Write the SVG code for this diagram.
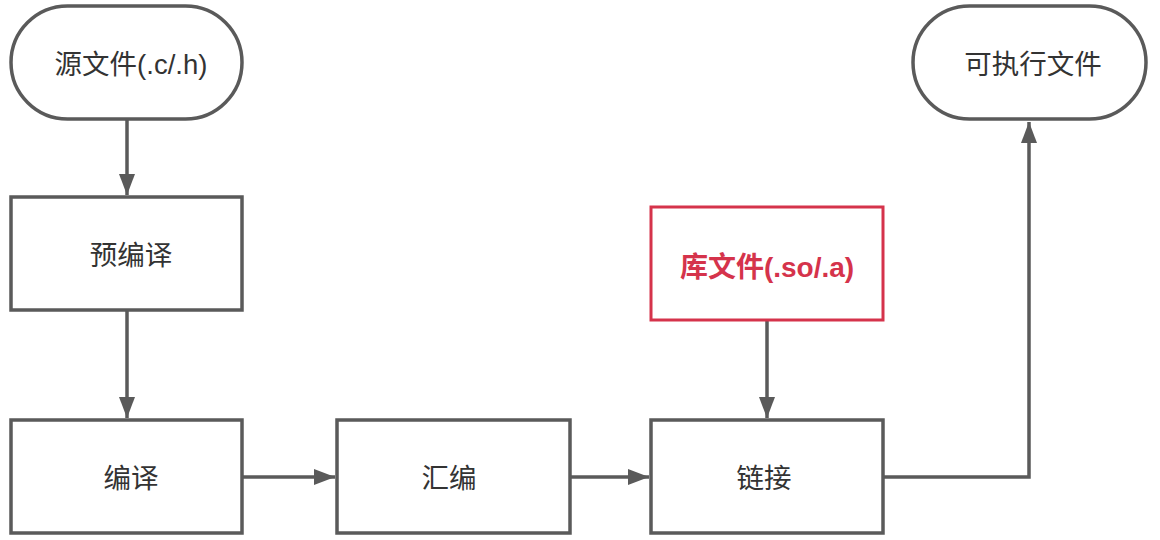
<svg xmlns="http://www.w3.org/2000/svg" width="1160" height="540" viewBox="0 0 1160 540">
<style>
.node{fill:#fff;stroke:#5a5a5a;stroke-width:3.5}
.red{fill:#fff;stroke:#d5334b;stroke-width:3}
.lbl{font-family:"Liberation Sans","Noto Sans CJK SC",sans-serif;font-size:27.5px;fill:#333;text-anchor:middle;dominant-baseline:central}
.rlbl{font-family:"Liberation Sans","Noto Sans CJK SC",sans-serif;font-size:28px;font-weight:bold;fill:#d5334b;text-anchor:middle;dominant-baseline:central}
.edge{fill:none;stroke:#5a5a5a;stroke-width:3.5;marker-end:url(#arr)}
</style>
<defs>
<marker id="arr" markerUnits="userSpaceOnUse" markerWidth="22" markerHeight="18" refX="21" refY="9" orient="auto">
<path d="M0,1 L21,9 L0,17 Z" fill="#5a5a5a"/>
</marker>
</defs>
<rect width="1160" height="540" fill="#fff"/>
<g id="connectors">
<path class="edge" d="M127,120 V195"/>
<path class="edge" d="M127,311 V418"/>
<path class="edge" d="M243,477 H335"/>
<path class="edge" d="M570,477 H649"/>
<path class="edge" d="M767,321 V418"/>
<path class="edge" d="M884,477 H1029 V122"/>
</g>
<g id="n_src">
<rect class="node" x="11" y="6" width="231" height="113" rx="56.5"/>
<text class="lbl" x="131" y="64">源文件(.c/.h)</text>
</g>
<g id="n_pre">
<rect class="node" x="11" y="197" width="231" height="113"/>
<text class="lbl" x="131" y="255">预编译</text>
</g>
<g id="n_compile">
<rect class="node" x="11" y="420" width="231" height="113"/>
<text class="lbl" x="131" y="478">编译</text>
</g>
<g id="n_asm">
<rect class="node" x="337" y="420" width="233" height="113"/>
<text class="lbl" x="449" y="478">汇编</text>
</g>
<g id="n_link">
<rect class="node" x="651" y="420" width="232" height="113"/>
<text class="lbl" x="764" y="478">链接</text>
</g>
<g id="n_lib">
<rect class="red" x="651" y="207" width="232" height="113"/>
<text class="rlbl" x="767" y="267">库文件(.so/.a)</text>
</g>
<g id="n_exe">
<rect class="node" x="913" y="6" width="233" height="113" rx="56.5"/>
<text class="lbl" x="1033" y="64">可执行文件</text>
</g>
</svg>
